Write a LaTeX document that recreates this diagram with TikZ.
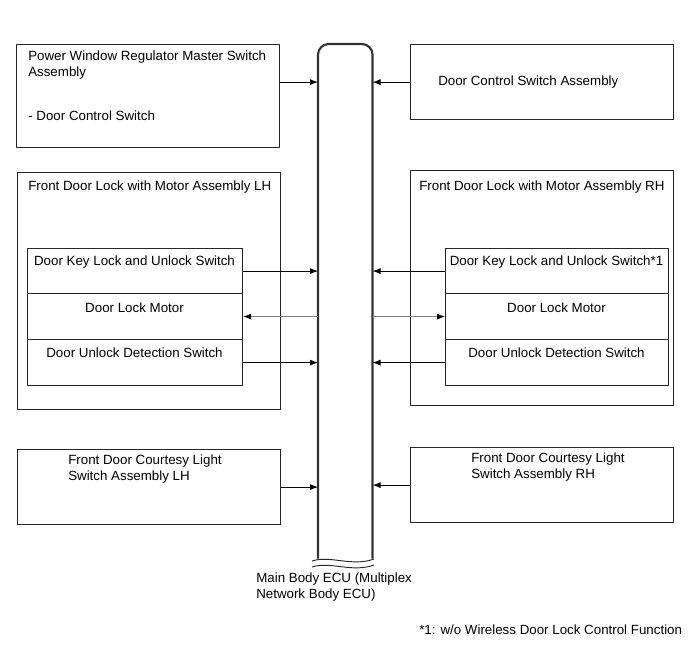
\documentclass[tikz,border=0pt]{standalone}
\usepackage{fontspec}
\setmainfont{Liberation Sans}
\usepackage{tikz}
\usetikzlibrary{positioning,arrows.meta,calc}

\tikzset{
	blk/.style 2 args = {draw = black!85, line width = 0.9pt, anchor = north west,
		inner sep = 0pt, minimum width = #1*0.75pt, minimum height = #2*0.75pt},
	txt/.style = {inner sep = 0pt, font = \fontsize{10}{11.6}\selectfont},
	sig/.style = {draw = black, line width = 0.6pt, -{Latex[length = 6pt, width = 4.5pt]}},
	sigm/.style = {draw = black!50, line width = 0.6pt, -{Latex[length = 6pt, width = 4.5pt, color = black]}},
	bus/.style = {draw = black!80, line width = 1.6pt}
}

\begin{document}
\begin{tikzpicture}[x = 0.75pt, y = -0.75pt]
\useasboundingbox (0, 0) rectangle (691, 660);

% main body ECU
\node[minimum width = 54*0.75pt, minimum height = 514*0.75pt, inner sep = 0pt, anchor = north west] (ECU) at (318, 44) {};
\draw[bus, rounded corners = 8pt] (ECU.south west) -- (ECU.north west) -- (ECU.north east) -- (ECU.south east);
\foreach \y in {561, 567}
	\draw[black!85, line width = 0.7pt] (312, \y) .. controls (330, \y - 6) and (352, \y + 6) .. (374, \y - 2);
\node[txt, anchor = north west, align = left] (tECU) at (256, 573) {Main Body ECU (Multiplex\\Network Body ECU)};

% top row
\node[blk = {263}{103}] (Master) at (16, 44) {};
\node[txt, anchor = west] (tMaster) at (28, 57) {Power Window Regulator Master Switch};
\node[txt, anchor = west] (tMasterA) at (28, 73) {Assembly};
\node[txt, anchor = west] (tMasterB) at (28, 116) {- Door Control Switch};

\node[blk = {263}{75}] (DoorCtrl) at (410, 44) {};
\node[txt, anchor = west] (tDoorCtrl) at (438, 82) {Door Control Switch Assembly};

\draw[sig] ([yshift = 10.5pt]Master.east) -- ([yshift = 10.5pt]Master.east -| ECU.west);
\draw[sig] (DoorCtrl.west) -- (DoorCtrl.west -| ECU.east);

% front door lock LH
\node[blk = {263}{237}] (LockL) at (17, 172) {};
\node[txt, anchor = west] (tLockL) at (28, 187) {Front Door Lock with Motor Assembly LH};
\node[blk = {215}{45}] (KeyL) at (27, 248) {};
\node[blk = {215}{46}] (MotorL) at (27, 293) {};
\node[blk = {215}{46}] (DetL) at (27, 339) {};
\node[txt] (tKeyL) at (134.5, 262) {Door Key Lock and Unlock Switch};
\node[txt] (tMotorL) at (134.5, 308) {Door Lock Motor};
\node[txt] (tDetL) at (134.5, 353) {Door Unlock Detection Switch};

\draw[sig] (KeyL.east) -- (KeyL.east -| ECU.west);
\draw[sigm] (MotorL.east -| ECU.west) -- (MotorL.east);
\draw[sig] (DetL.east) -- (DetL.east -| ECU.west);

% front door lock RH
\node[blk = {263}{235}] (LockR) at (410, 170) {};
\node[txt, anchor = west] (tLockR) at (419, 187) {Front Door Lock with Motor Assembly RH};
\node[blk = {223}{45}] (KeyR) at (445, 248) {};
\node[blk = {223}{46}] (MotorR) at (445, 293) {};
\node[blk = {223}{46}] (DetR) at (445, 339) {};
\node[txt] (tKeyR) at (556.5, 262) {Door Key Lock and Unlock Switch*1};
\node[txt] (tMotorR) at (556.5, 308) {Door Lock Motor};
\node[txt] (tDetR) at (556.5, 353) {Door Unlock Detection Switch};

\draw[sig] (KeyR.west) -- (KeyR.west -| ECU.east);
\draw[sigm] (MotorR.west -| ECU.east) -- (MotorR.west);
\draw[sig] (DetR.west) -- (DetR.west -| ECU.east);

% courtesy light switches
\node[blk = {263}{75}] (CourL) at (17, 449) {};
\node[txt, anchor = north west, align = left] (tCourL) at (68, 455) {Front Door Courtesy Light\\Switch Assembly LH};
\node[blk = {263}{75}] (CourR) at (410, 447) {};
\node[txt, anchor = north west, align = left] (tCourR) at (471, 453) {Front Door Courtesy Light\\Switch Assembly RH};

\draw[sig] (CourL.east) -- (CourL.east -| ECU.west);
\draw[sig] (CourR.west) -- (CourR.west -| ECU.east);

\node[txt, anchor = west] (tNote) at (419, 630) {*1: w/o Wireless Door Lock Control Function};

\end{tikzpicture}
\end{document}
